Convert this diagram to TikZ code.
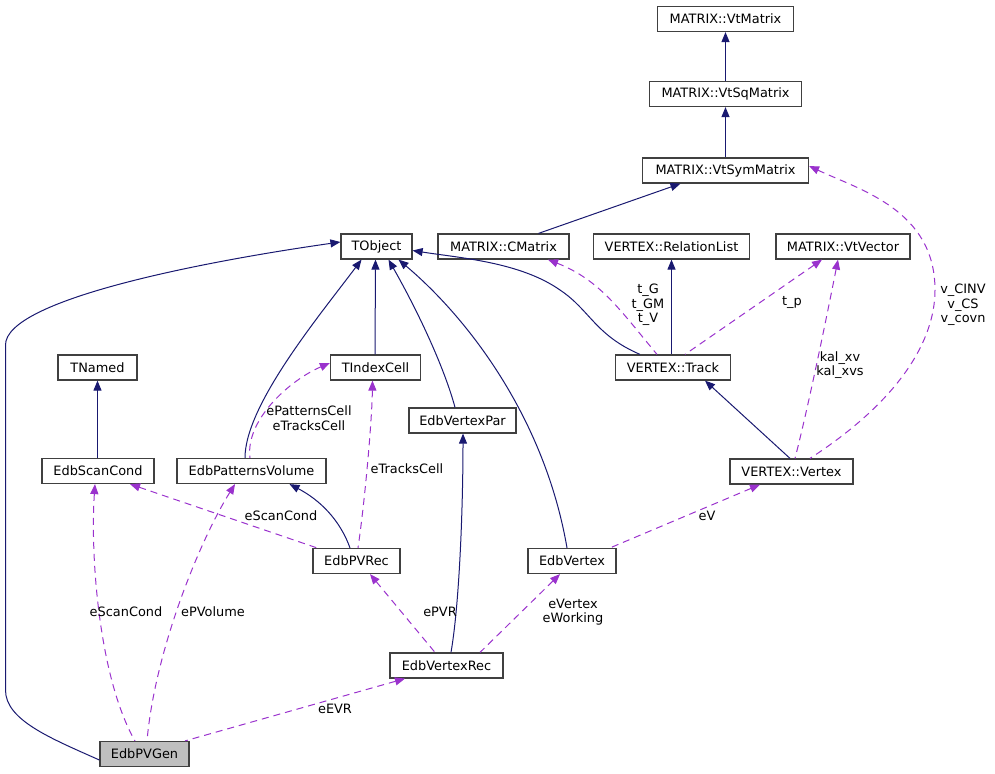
\documentclass[tikz,border=0pt]{standalone}
\usepackage{fontspec}
\setmainfont{DejaVu Sans}
\usetikzlibrary{arrows.meta}
\definecolor{navy}{HTML}{191970}
\definecolor{purp}{HTML}{9A32CD}
\definecolor{bord}{HTML}{404040}
\begin{document}
\begin{tikzpicture}[x=1pt,y=-1pt,
  box/.style={draw=bord,line width=1.2pt,fill=white,minimum height=25pt,inner sep=0pt,font=\fontsize{12.9}{14.5}\selectfont},
  inh/.style={navy,line width=1pt,{Triangle[length=10pt,width=8pt]}-},
  use/.style={purp,line width=1pt,dash pattern=on 7pt off 5pt,{Triangle[length=10pt,width=8pt]}-},
  lbl/.style={align=center,inner sep=0pt,font=\fontsize{12.9}{14.5}\selectfont}]
\useasboundingbox (0,0) rectangle (995,773);
% nodes
\node[box,minimum width=136pt] (vtm) at (725.5,19) {MATRIX::VtMatrix};
\node[box,minimum width=152pt] (vtsq) at (725.5,94) {MATRIX::VtSqMatrix};
\node[box,minimum width=166pt] (vtsym) at (725.5,170.5) {MATRIX::VtSymMatrix};
\node[box,minimum width=71pt] (tobj) at (376.5,246.5) {TObject};
\node[box,minimum width=131pt] (cmat) at (503.5,246.5) {MATRIX::CMatrix};
\node[box,minimum width=156pt] (rel) at (671.5,246.5) {VERTEX::RelationList};
\node[box,minimum width=134pt] (vtvec) at (843,246.5) {MATRIX::VtVector};
\node[box,minimum width=79pt] (tnamed) at (97.5,367.5) {TNamed};
\node[box,minimum width=90pt] (tidx) at (375.5,367.5) {TIndexCell};
\node[box,minimum width=115pt] (track) at (673,367.5) {VERTEX::Track};
\node[box,minimum width=107pt] (vpar) at (462.5,420.5) {EdbVertexPar};
\node[box,minimum width=112pt] (scan) at (98,471) {EdbScanCond};
\node[box,minimum width=149pt] (patvol) at (251.5,471) {EdbPatternsVolume};
\node[box,minimum width=123pt] (vvtx) at (791.5,471.5) {VERTEX::Vertex};
\node[box,minimum width=87pt] (pvrec) at (356.5,561) {EdbPVRec};
\node[box,minimum width=88pt] (vtx) at (572,561) {EdbVertex};
\node[box,minimum width=113pt] (vrec) at (446.5,665.5) {EdbVertexRec};
\node[box,minimum width=89pt,fill={rgb,255:red,191;green,191;blue,191}] (pvgen) at (144.5,754) {EdbPVGen};
% inheritance
\draw[inh] (vtm.south) -- (vtsq.north);
\draw[inh] (vtsq.south) -- (vtsym.north);
\draw[inh] ([xshift=-45pt]vtsym.south) -- ([xshift=35pt]cmat.north);
\draw[inh] ([yshift=4.5pt]tobj.west) .. controls (200,262) and (5.5,300) .. (5.5,345) -- (5.5,690) .. controls (5.5,720) and (50,738) .. ([yshift=-6pt]pvgen.west);
\draw[inh] ([xshift=-1pt]tobj.south) -- ([xshift=-0.5pt]tidx.north);
\draw[inh] ([xshift=-15pt]tobj.south) .. controls (320,315) and (245,405) .. ([xshift=-6.5pt]patvol.north);
\draw[inh] ([xshift=12pt]tobj.south) .. controls (420,315) and (445,370) .. ([xshift=-7.5pt]vpar.north);
\draw[inh] ([xshift=22pt]tobj.south) .. controls (470,320) and (545,420) .. ([xshift=-5pt]vtx.north);
\draw[inh] ([yshift=-4pt]tobj.east) .. controls (460,258) and (520,262) .. (560,290) .. controls (590,310) and (595,335) .. ([xshift=-33pt]track.north);
\draw[inh] (tnamed.south) -- (tnamed.south |- scan.north);
\draw[inh] (rel.south) -- (rel.south |- track.north);
\draw[inh] ([xshift=32pt]track.south) -- ([xshift=-1.5pt]vvtx.north);
\draw[inh] ([xshift=38pt]patvol.south) .. controls (320,500) and (340,520) .. ([xshift=-6.5pt]pvrec.north);
\draw[inh] ([xshift=0.5pt]vpar.south) .. controls (463,500) and (460,600) .. ([xshift=4.5pt]vrec.north);
% usage
\draw[use] ([xshift=44.5pt]cmat.south) .. controls (600,280) and (620,310) .. ([xshift=-16pt]track.north);
\node[lbl] (l1) at (648,305) {t\_G\\t\_GM\\t\_V};
\draw[use] ([xshift=-21pt]vtvec.south) -- ([xshift=12pt]track.north);
\node[lbl] (l2) at (792,302) {t\_p};
\draw[use] ([yshift=4.5pt]vtsym.east) .. controls (860,190) and (935,210) .. (935,290) .. controls (935,340) and (900,400) .. ([xshift=18.5pt]vvtx.north);
\node[lbl] (l3) at (963,305) {v\_CINV\\v\_CS\\v\_covn};
\draw[use] ([xshift=-5pt]vtvec.south) .. controls (830,300) and (810,400) .. ([xshift=3.5pt]vvtx.north);
\node[lbl] (l4) at (840,365) {kal\_xv\\kal\_xvs};
\draw[use] ([yshift=4.5pt]tidx.west) .. controls (290,380) and (245,420) .. ([xshift=-1.5pt]patvol.north);
\node[lbl] (l5) at (309,418) {ePatternsCell\\eTracksCell};
\draw[use] ([xshift=-3pt]tidx.south) .. controls (372,420) and (365,500) .. ([xshift=1.5pt]pvrec.north);
\node[lbl] (l6) at (407,469) {eTracksCell};
\draw[use] ([xshift=32pt]scan.south) -- ([xshift=-39.5pt]pvrec.north);
\node[lbl] (l7) at (281,516) {eScanCond};
\draw[use] ([xshift=-3pt]scan.south) .. controls (90,560) and (100,680) .. ([xshift=-9.5pt]pvgen.north);
\node[lbl] (l8) at (126,612) {eScanCond};
\draw[use] ([xshift=-16.5pt]patvol.south) .. controls (200,540) and (155,650) .. ([xshift=2.5pt]pvgen.north);
\node[lbl] (l9) at (213,612) {ePVolume};
\draw[use] ([xshift=13.5pt]pvrec.south) -- ([xshift=-11.5pt]vrec.north);
\node[lbl] (l10) at (440,612) {ePVR};
\draw[use] ([xshift=-12pt]vtx.south) -- ([xshift=33.5pt]vrec.north);
\node[lbl] (l11) at (573,612) {eVertex\\eWorking};
\draw[use] ([xshift=-31.5pt]vvtx.south) -- ([xshift=38pt]vtx.north);
\node[lbl] (l12) at (707,516) {eV};
\draw[use] ([xshift=-41.5pt]vrec.south) -- ([xshift=40.5pt]pvgen.north);
\node[lbl] (l13) at (335,709) {eEVR};
\end{tikzpicture}
\end{document}
